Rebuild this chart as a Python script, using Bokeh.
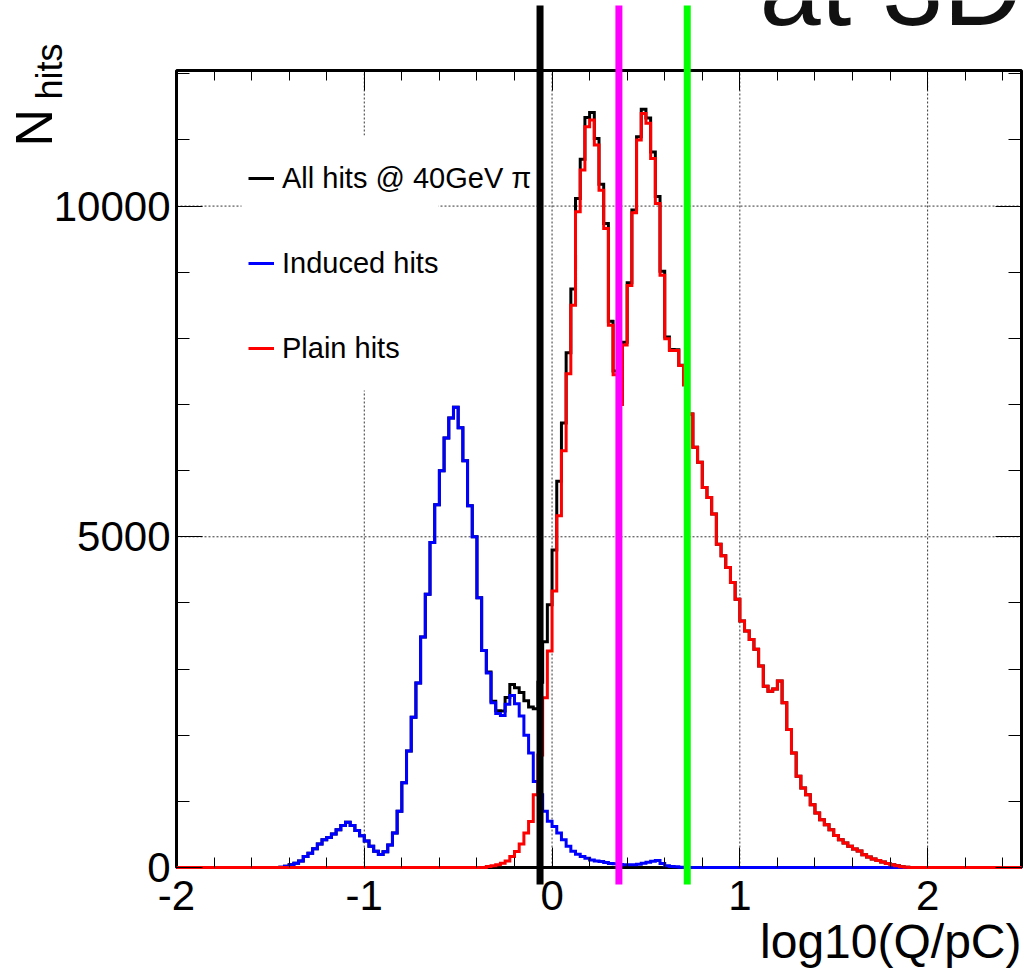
import numpy as np
from math import pi
from bokeh.plotting import figure
from bokeh.models import (Range1d, LinearAxis, FixedTicker, Label, Legend, LegendItem,
                          CustomLabelingPolicy)
from bokeh.embed import file_html
from bokeh.resources import INLINE

# ---- histogram binning: 180 bins of 0.025 from -2 to 2.5 ----
bin_start = -2.0
bin_width = 0.025
n_bins = 180
data_start = -1.5          # first listed bin is [-1.5, -1.475)

# ---- counts per bin, bins from -1.5 to 2.0 ----
induced_hits = [
    0, 0, 5, 20, 40, 65, 100, 165, 215, 285,
    355, 420, 455, 505, 570, 635, 685, 635, 560, 480,
    400, 320, 245, 195, 240, 340, 520, 850, 1280, 1760,
    2270, 2790, 3485, 4130, 4914, 5484, 6000, 6494, 6797, 6958,
    6650, 6150, 5470, 5000, 4080, 3280, 2940, 2490, 2330, 2300,
    2470, 2600, 2475, 2290, 2000, 1730, 1300, 1100, 850, 700,
    620, 520, 420, 320, 245, 200, 165, 140, 115, 100,
    90, 75, 60, 55, 45, 40, 40, 40, 50, 65,
    80, 95, 105, 60, 25, 15, 10, 5, 0, 0,
    0, 0, 0, 0, 0, 0, 0, 0, 0, 0,
    0, 0, 0, 0, 0, 0, 0, 0, 0, 0,
    0, 0, 0, 0, 0, 0, 0, 0, 0, 0,
    0, 0, 0, 0, 0, 0, 0, 0, 0, 0,
    0, 0, 0, 0, 0, 0, 0, 0, 0, 0,
]
plain_hits = [
    0, 0, 0, 0, 0, 0, 0, 0, 0, 0,
    0, 0, 0, 0, 0, 0, 0, 0, 0, 0,
    0, 0, 0, 0, 0, 0, 0, 0, 0, 0,
    0, 0, 0, 0, 0, 0, 0, 0, 0, 0,
    0, 0, 0, 0, 0, 0, 15, 25, 40, 65,
    100, 165, 242, 354, 520, 697, 1100, 1700, 2565, 3272,
    4181, 5318, 6302, 7464, 8500, 9913, 10544, 11200, 11300, 10923,
    10241, 9660, 8200, 7450, 7000, 7900, 8800, 9900, 11000, 11400,
    11251, 10721, 10039, 8954, 7994, 7817, 7817, 7590, 7300, 6858,
    6353, 6126, 5747, 5595, 5343, 4888, 4712, 4535, 4308, 4055,
    3727, 3575, 3449, 3298, 3045, 2742, 2666, 2700, 2820, 2490,
    2086, 1732, 1379, 1202, 1101, 949, 823, 722, 646, 570,
    485, 419, 369, 320, 280, 250, 192, 160, 130, 105,
    85, 60, 40, 25, 12, 5, 0, 0, 0, 0,
]
all_hits = [
    0, 0, 5, 20, 40, 65, 100, 165, 215, 285,
    355, 420, 455, 505, 570, 635, 685, 635, 560, 480,
    400, 320, 245, 195, 240, 340, 520, 850, 1280, 1760,
    2270, 2790, 3485, 4130, 4914, 5484, 6000, 6494, 6797, 6958,
    6650, 6150, 5470, 5000, 4080, 3280, 2955, 2515, 2370, 2365,
    2570, 2765, 2717, 2644, 2520, 2427, 2400, 2800, 3415, 3972,
    4801, 5838, 6722, 7784, 8745, 10113, 10709, 11340, 11415, 11023,
    10331, 9735, 8260, 7505, 7045, 7940, 8840, 9940, 11050, 11465,
    11331, 10816, 10144, 9014, 8019, 7832, 7827, 7595, 7300, 6858,
    6353, 6126, 5747, 5595, 5343, 4888, 4712, 4535, 4308, 4055,
    3727, 3575, 3449, 3298, 3045, 2742, 2666, 2700, 2820, 2490,
    2086, 1732, 1379, 1202, 1101, 949, 823, 722, 646, 570,
    485, 419, 369, 320, 280, 250, 192, 160, 130, 105,
    85, 60, 40, 25, 12, 5, 0, 0, 0, 0,
]

series_labels = ["All hits @ 40GeV \u03c0", "Induced hits", "Plain hits"]
series_colors = ["#000000", "#0000ff", "#ff0000"]

cut_values = [-0.064, 0.356, 0.720]          # vertical threshold lines
cut_colors = ["#000000", "#ff00ff", "#00ff00"]

x_lo, x_hi = -2.0, 2.5                        # histogram axis ranges
y_lo, y_hi = 0, 12050
x_ticks = [-2, -1, 0, 1, 2]
x_minor = [round(-2 + 0.2 * i, 1) for i in range(23)]
y_ticks = [0, 5000, 10000]
y_minor = [1000 * i for i in range(13)]

x_title = "log10(Q/pC)"
y_title_main, y_title_sub = "N", "hits"
plot_title = "at 3D"

FONT = "Liberation Sans"
BASE = 0.355   # svg text: anchor sits this many em above the glyph baseline

# ---- page geometry: ROOT frame spans x 176..1021, y 70..867 ----
W, H = 1026, 970
FX0, FX1, FY0, FY1 = 176, 1021, 70, 867
SX = (FX1 - FX0) / (x_hi - x_lo)
SY = (FY1 - FY0) / (y_hi - y_lo)


def xd(px):   # page px -> data x
    return x_lo + (px - FX0) / SX


def yd(py):   # page px -> data y
    return y_lo + (FY1 - py) / SY


p = figure(width=W, height=H, x_range=Range1d(xd(0), xd(W)), y_range=Range1d(yd(H), yd(0)),
           output_backend="svg", toolbar_location=None, title=None,
           x_axis_type=None, y_axis_type=None,
           min_border_left=0, min_border_right=0, min_border_top=0, min_border_bottom=0)
p.background_fill_color = "white"
p.border_fill_color = "white"
p.outline_line_color = None

xt = FixedTicker(ticks=x_ticks, minor_ticks=x_minor)
yt = FixedTicker(ticks=y_ticks, minor_ticks=y_minor)

no_labels = CustomLabelingPolicy(code="""
try {
  for (const i of Array.from(indices)) { indices.unset(i) }
} catch (e) {}
return indices
""")


def make_axis(ticker, loc, bounds, major, minor, labels, overrides=None):
    ax = LinearAxis(ticker=ticker, fixed_location=loc, bounds=bounds)
    ax.axis_line_color = None
    ax.major_tick_in = major
    ax.major_tick_out = 0
    ax.minor_tick_in = minor
    ax.minor_tick_out = 0
    ax.major_tick_line_color = "black"
    ax.minor_tick_line_color = "black"
    ax.major_tick_line_width = 1
    ax.minor_tick_line_width = 1
    if labels:
        ax.major_label_text_font = FONT
        ax.major_label_text_font_size = "42px"
        ax.major_label_text_color = "black"
        if overrides:
            ax.major_label_overrides = overrides
    else:
        ax.major_label_text_font_size = "0px"
        ax.major_label_standoff = 0
        ax.major_label_policy = no_labels
    return ax


x_over = {t: str(t) for t in x_ticks}
bottom_ax = make_axis(xt, y_lo, (x_lo, x_hi), 20, 10, True, x_over)
bottom_ax.major_label_standoff = 13
left_ax = make_axis(yt, x_lo, (y_lo, y_hi), 26, 13, True)
left_ax.major_label_standoff = 6
top_ax = make_axis(xt, y_hi, (x_lo, x_hi), 20, 10, False)
right_ax = make_axis(yt, x_hi, (y_lo, y_hi), 26, 13, False)
p.add_layout(bottom_ax, "below")
p.add_layout(left_ax, "left")
p.add_layout(top_ax, "above")
p.add_layout(right_ax, "right")

# ---- grid (inside the frame only) ----
p.segment(x0=x_ticks, y0=y_lo, x1=x_ticks, y1=y_hi, line_color="black", line_alpha=0.8,
          line_width=1, line_dash="2 2")
p.segment(x0=x_lo, y0=y_ticks, x1=x_hi, y1=y_ticks, line_color="black", line_alpha=0.8,
          line_width=1, line_dash="2 2")

# white legend box of ROOT (covers the grid)
p.quad(left=xd(241), right=xd(438), top=yd(135), bottom=yd(390),
       fill_color="white", line_color=None)

# frame
p.quad(left=x_lo, right=x_hi, bottom=y_lo, top=y_hi, fill_color=None,
       line_color="black", line_width=3)

# ---- histograms ----
edges = bin_start + bin_width * np.arange(n_bins + 1)
pad = int(round((data_start - bin_start) / bin_width))


def full(arr):
    out = np.zeros(n_bins)
    out[pad:pad + len(arr)] = arr
    return np.append(out, out[-1])


renderers = []
for vals, col in zip([all_hits, induced_hits, plain_hits], series_colors):
    r = p.step(edges, full(vals), mode="after", line_color=col, line_width=3,
               line_join="miter")
    renderers.append(r)

legend = Legend(items=[LegendItem(label=l, renderers=[r]) for l, r in zip(series_labels, renderers)],
                location=(248, H - 365), glyph_width=26, glyph_height=34, label_height=34,
                label_standoff=8, spacing=51, padding=0, margin=0,
                border_line_color=None, background_fill_alpha=0,
                label_text_font=FONT, label_text_font_size="29px",
                label_text_color="black")
p.add_layout(legend)

# ---- threshold lines, over everything, extending beyond the frame ----
hw = 3.5 / SX
for xc, col in zip(cut_values, cut_colors):
    p.quad(left=xc - hw, right=xc + hw, top=yd(5), bottom=yd(884),
           fill_color=col, line_color=None, level="overlay")


# ---- texts (baseline positions in page px) ----
def text_label(px, py, text, size, align="left", angle=0.0, color="black"):
    off = BASE * size
    if angle:
        ax, ay = px - off, py          # rotated 90 deg: baseline shift is along x
    else:
        ax, ay = px, py - off
    return Label(x=xd(ax), y=yd(ay), text=text, angle=angle, text_font=FONT,
                 text_font_size=f"{size}px", text_align=align,
                 text_baseline="alphabetic", text_color=color)


p.add_layout(text_label(1021, 958, x_title, 48, align="right"))
p.add_layout(text_label(52, 146, y_title_main, 52, angle=pi / 2))
p.add_layout(text_label(62, 99, y_title_sub, 36, angle=pi / 2))
p.add_layout(text_label(1022, 25, plot_title, 110, align="right", color="#111111"))

open("out.html", "w").write(file_html(p, INLINE))
